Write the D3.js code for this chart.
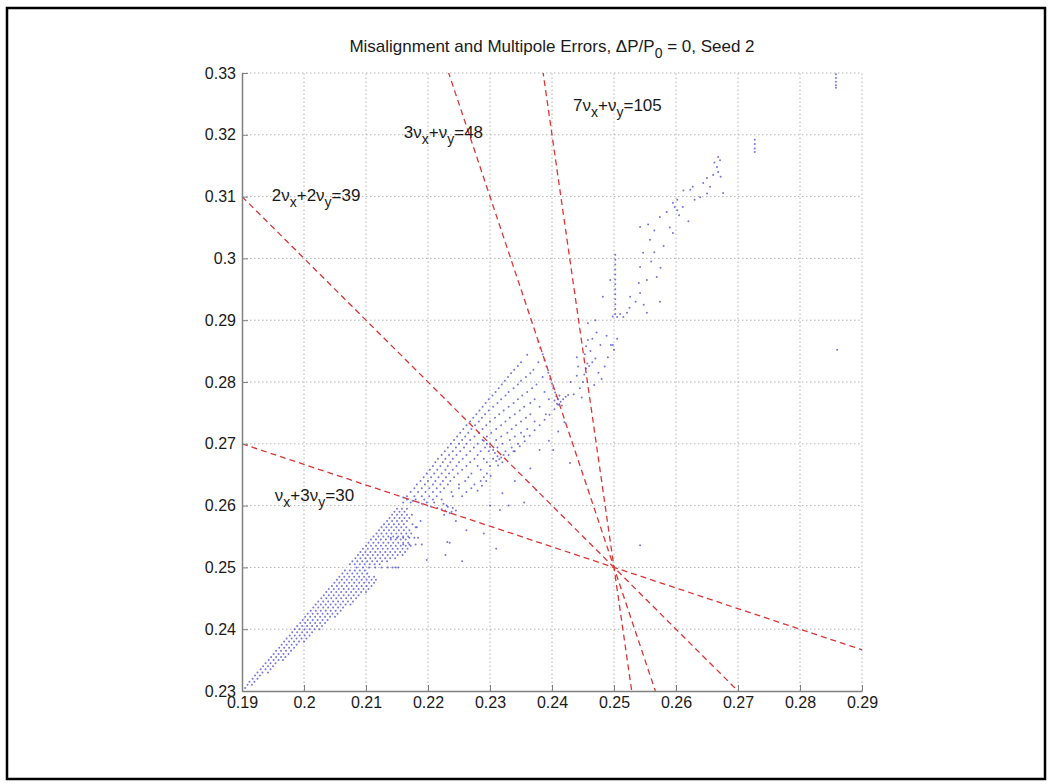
<!DOCTYPE html>
<html>
<head>
<meta charset="utf-8">
<script src="https://cdn.jsdelivr.net/npm/d3@7"></script>
<style>
  body { margin: 0; background: #fff; }
  text { font-family: Arial, "Liberation Sans", sans-serif; }
</style>
</head>
<body>
<svg id="chart" width="1051" height="784"></svg>
<script>
// tick values
const xTicks = [0.19, 0.2, 0.21, 0.22, 0.23, 0.24, 0.25, 0.26, 0.27, 0.28, 0.29];
const yTicks = [0.23, 0.24, 0.25, 0.26, 0.27, 0.28, 0.29, 0.3, 0.31, 0.32, 0.33];

// integer part of the tunes (nu_x = 14.xx, nu_y = 5.xx)
const integerTunes = [14, 5];

// resonance lines a*nux + b*nuy = n
const resonances = [[2, 2, 39], [1, 3, 30], [3, 1, 48], [7, 1, 105]];
// where each label starts, in tune units
const resLabelAt = [[0.1948, 0.3093], [0.1953, 0.2607], [0.2161, 0.3195], [0.2434, 0.3239]];

// footprint lattice, each row: [nuy, nux, nux, ...]
const wedgeRows = [
  [0.2305, 0.1905],
  [0.2310, 0.1909, 0.1916],
  [0.2315, 0.1912, 0.1920],
  [0.2320, 0.1917, 0.1925],
  [0.2325, 0.1921, 0.1929],
  [0.2330, 0.1925, 0.1933, 0.1942],
  [0.2335, 0.1930, 0.1938, 0.1946],
  [0.2340, 0.1934, 0.1942, 0.1950],
  [0.2345, 0.1938, 0.1946, 0.1954],
  [0.2350, 0.1943, 0.1951, 0.1959, 0.1966],
  [0.2355, 0.1947, 0.1955, 0.1963, 0.1970],
  [0.2360, 0.1951, 0.1959, 0.1967, 0.1975],
  [0.2365, 0.1955, 0.1963, 0.1971, 0.1979],
  [0.2370, 0.1960, 0.1968, 0.1976, 0.1984],
  [0.2375, 0.1964, 0.1972, 0.1980, 0.1988],
  [0.2380, 0.1968, 0.1976, 0.1984, 0.1992, 0.2000],
  [0.2385, 0.1972, 0.1980, 0.1988, 0.1996, 0.2004],
  [0.2390, 0.1977, 0.1985, 0.1993, 0.2001, 0.2009],
  [0.2395, 0.1981, 0.1989, 0.1997, 0.2005, 0.2013],
  [0.2400, 0.1985, 0.1993, 0.2001, 0.2009, 0.2017, 0.2025],
  [0.2405, 0.1989, 0.1997, 0.2005, 0.2013, 0.2021, 0.2029],
  [0.2410, 0.1994, 0.2002, 0.2010, 0.2018, 0.2026, 0.2034],
  [0.2415, 0.1998, 0.2006, 0.2014, 0.2022, 0.2030, 0.2038],
  [0.2420, 0.2002, 0.2010, 0.2018, 0.2026, 0.2034, 0.2042, 0.2050],
  [0.2425, 0.2006, 0.2014, 0.2022, 0.2030, 0.2038, 0.2046, 0.2054],
  [0.2430, 0.2011, 0.2019, 0.2027, 0.2035, 0.2043, 0.2051, 0.2059],
  [0.2435, 0.2015, 0.2023, 0.2031, 0.2039, 0.2047, 0.2055, 0.2063],
  [0.2440, 0.2019, 0.2027, 0.2035, 0.2043, 0.2051, 0.2059, 0.2067, 0.2075],
  [0.2445, 0.2023, 0.2031, 0.2039, 0.2047, 0.2055, 0.2063, 0.2071, 0.2079],
  [0.2450, 0.2028, 0.2036, 0.2044, 0.2052, 0.2060, 0.2068, 0.2076, 0.2084],
  [0.2455, 0.2032, 0.2040, 0.2048, 0.2056, 0.2064, 0.2072, 0.2080, 0.2088],
  [0.2460, 0.2036, 0.2044, 0.2052, 0.2060, 0.2068, 0.2076, 0.2084, 0.2092, 0.2100],
  [0.2465, 0.2040, 0.2048, 0.2056, 0.2064, 0.2072, 0.2080, 0.2088, 0.2096, 0.2104],
  [0.2470, 0.2045, 0.2053, 0.2061, 0.2069, 0.2077, 0.2085, 0.2093, 0.2101, 0.2109],
  [0.2475, 0.2049, 0.2057, 0.2065, 0.2073, 0.2081, 0.2089, 0.2097, 0.2105, 0.2113],
  [0.2480, 0.2053, 0.2061, 0.2069, 0.2077, 0.2085, 0.2093, 0.2101, 0.2109, 0.2116],
  [0.2485, 0.2057, 0.2065, 0.2073, 0.2081, 0.2089, 0.2097, 0.2105, 0.2113],
  [0.2490, 0.2062, 0.2070, 0.2078, 0.2086, 0.2094, 0.2102],
  [0.2495, 0.2066, 0.2074, 0.2082, 0.2090, 0.2098],
  [0.2505, 0.2074, 0.2082, 0.2090, 0.2098, 0.2106, 0.2114, 0.2122],
  [0.2510, 0.2078, 0.2086, 0.2094, 0.2102, 0.2110, 0.2118, 0.2126, 0.2134],
  [0.2515, 0.2083, 0.2091, 0.2099, 0.2107, 0.2115, 0.2123, 0.2131, 0.2139, 0.2147],
  [0.2520, 0.2087, 0.2095, 0.2103, 0.2111, 0.2119, 0.2127, 0.2135, 0.2143, 0.2151, 0.2159],
  [0.2525, 0.2091, 0.2099, 0.2107, 0.2115, 0.2123, 0.2131, 0.2139, 0.2147, 0.2155, 0.2163],
  [0.2530, 0.2095, 0.2103, 0.2111, 0.2119, 0.2127, 0.2135, 0.2143, 0.2151, 0.2159, 0.2167],
  [0.2535, 0.2100, 0.2108, 0.2116, 0.2124, 0.2132, 0.2140, 0.2148, 0.2156, 0.2164, 0.2172],
  [0.2540, 0.2104, 0.2112, 0.2120, 0.2128, 0.2136, 0.2144, 0.2152, 0.2160, 0.2168],
  [0.2545, 0.2108, 0.2116, 0.2124, 0.2132, 0.2140, 0.2148, 0.2156, 0.2164],
  [0.2550, 0.2112, 0.2120, 0.2128, 0.2136, 0.2144, 0.2152, 0.2160, 0.2168],
  [0.2555, 0.2117, 0.2125, 0.2133, 0.2141, 0.2149, 0.2157, 0.2165, 0.2173],
  [0.2560, 0.2121, 0.2129, 0.2137, 0.2145, 0.2153, 0.2161, 0.2170],
  [0.2565, 0.2125, 0.2133, 0.2141, 0.2149, 0.2157, 0.2165, 0.2180],
  [0.2570, 0.2129, 0.2137, 0.2145, 0.2153, 0.2161, 0.2175],
  [0.2575, 0.2134, 0.2142, 0.2150, 0.2158, 0.2166, 0.2188],
  [0.2580, 0.2138, 0.2146, 0.2154, 0.2162, 0.2170],
  [0.2585, 0.2142, 0.2150, 0.2158, 0.2166, 0.2174],
  [0.2590, 0.2146, 0.2154, 0.2162],
  [0.2595, 0.2150, 0.2158, 0.2166]
];

// short horizontal streaks
const streakRows = [
  [0.2500, 0.2085, 0.2095, 0.2105, 0.2115, 0.2125, 0.2135, 0.2143, 0.2148, 0.2152],
  [0.2548, 0.2140, 0.2150, 0.2160, 0.2170, 0.2178, 0.2184],
  [0.2537, 0.2160, 0.2170, 0.2180, 0.2190]
];

// middle part of the footprint
const midRows = [
  [0.2605, 0.2160, 0.2172, 0.2185, 0.2198, 0.2210],
  [0.2610, 0.2166, 0.2180, 0.2194, 0.2208, 0.2222],
  [0.2615, 0.2166, 0.2178, 0.2190, 0.2202, 0.2214, 0.2240, 0.2255],
  [0.2622, 0.2172, 0.2184, 0.2196, 0.2208, 0.2220, 0.2238, 0.2262],
  [0.2628, 0.2178, 0.2190, 0.2202, 0.2214, 0.2226, 0.2250, 0.2270],
  [0.2634, 0.2182, 0.2195, 0.2208, 0.2220, 0.2232, 0.2250, 0.2275],
  [0.2640, 0.2188, 0.2200, 0.2212, 0.2224, 0.2236, 0.2260, 0.2285],
  [0.2646, 0.2193, 0.2205, 0.2217, 0.2229, 0.2242, 0.2265, 0.2290],
  [0.2652, 0.2198, 0.2210, 0.2222, 0.2234, 0.2248, 0.2270, 0.2295],
  [0.2658, 0.2203, 0.2215, 0.2228, 0.2240, 0.2255, 0.2285],
  [0.2664, 0.2208, 0.2220, 0.2232, 0.2246, 0.2262, 0.2280, 0.2300],
  [0.2670, 0.2212, 0.2224, 0.2236, 0.2250, 0.2268, 0.2295],
  [0.2676, 0.2216, 0.2228, 0.2240, 0.2256, 0.2275, 0.2290],
  [0.2682, 0.2222, 0.2234, 0.2246, 0.2262, 0.2280, 0.2330],
  [0.2688, 0.2227, 0.2240, 0.2252, 0.2268, 0.2285, 0.2325, 0.2338],
  [0.2694, 0.2232, 0.2245, 0.2258, 0.2274, 0.2292, 0.2312, 0.2335],
  [0.2700, 0.2237, 0.2250, 0.2262, 0.2280, 0.2300, 0.2320, 0.2345],
  [0.2706, 0.2242, 0.2255, 0.2268, 0.2288, 0.2310, 0.2332],
  [0.2712, 0.2247, 0.2260, 0.2275, 0.2295, 0.2318, 0.2340, 0.2355],
  [0.2718, 0.2252, 0.2265, 0.2282, 0.2302, 0.2328, 0.2350],
  [0.2724, 0.2257, 0.2270, 0.2288, 0.2310, 0.2335, 0.2360],
  [0.2730, 0.2262, 0.2276, 0.2294, 0.2318, 0.2342],
  [0.2736, 0.2268, 0.2282, 0.2300, 0.2325, 0.2350, 0.2372],
  [0.2742, 0.2273, 0.2287, 0.2308, 0.2332, 0.2358],
  [0.2748, 0.2278, 0.2292, 0.2315, 0.2340, 0.2365, 0.2390],
  [0.2754, 0.2283, 0.2298, 0.2322, 0.2348],
  [0.2760, 0.2288, 0.2305, 0.2330, 0.2355, 0.2380],
  [0.2766, 0.2293, 0.2312, 0.2338, 0.2365],
  [0.2772, 0.2298, 0.2318, 0.2345, 0.2372, 0.2395],
  [0.2778, 0.2304, 0.2325, 0.2352],
  [0.2784, 0.2309, 0.2330, 0.2360, 0.2388],
  [0.2790, 0.2314, 0.2338, 0.2368],
  [0.2796, 0.2319, 0.2345, 0.2375],
  [0.2802, 0.2324, 0.2350],
  [0.2808, 0.2329, 0.2358, 0.2385],
  [0.2814, 0.2334, 0.2365],
  [0.2820, 0.2339, 0.2370],
  [0.2826, 0.2345],
  [0.2832, 0.2350, 0.2378],
  [0.2844, 0.2360]
];

// dense spots where the footprint hits a resonance, [nux, nuy]
const clusterPts = [
  [0.2160, 0.2613], [0.2175, 0.2608], [0.2190, 0.2603], [0.2205, 0.2598], [0.2215, 0.2596],
  [0.2222, 0.2594], [0.2228, 0.2592], [0.2232, 0.2598], [0.2235, 0.2588], [0.2240, 0.2596],
  [0.2226, 0.2585], [0.2238, 0.2590], [0.2230, 0.2600], [0.2245, 0.2592], [0.2225, 0.2603],
  [0.2290, 0.2705], [0.2295, 0.2700], [0.2300, 0.2695], [0.2305, 0.2690], [0.2308, 0.2685],
  [0.2312, 0.2680], [0.2315, 0.2675], [0.2318, 0.2678], [0.2310, 0.2672], [0.2320, 0.2670],
  [0.2305, 0.2676], [0.2322, 0.2682], [0.2313, 0.2665], [0.2298, 0.2688],
  [0.2280, 0.2624], [0.2287, 0.2632], [0.2294, 0.2640], [0.2301, 0.2648], [0.2340, 0.2688],
  [0.2348, 0.2696], [0.2356, 0.2704], [0.2364, 0.2713], [0.2372, 0.2722], [0.2380, 0.2730],
  [0.2388, 0.2739], [0.2396, 0.2747], [0.2404, 0.2756], [0.2410, 0.2763],
  [0.2378, 0.2865], [0.2381, 0.2855], [0.2385, 0.2845], [0.2388, 0.2835], [0.2391, 0.2825],
  [0.2394, 0.2815], [0.2397, 0.2805], [0.2400, 0.2797], [0.2402, 0.2790], [0.2405, 0.2783],
  [0.2407, 0.2777], [0.2410, 0.2772], [0.2414, 0.2768], [0.2418, 0.2772], [0.2422, 0.2776],
  [0.2426, 0.2779], [0.2408, 0.2765], [0.2412, 0.2778], [0.2404, 0.2770], [0.2416, 0.2762]
];

// region around the 7nux+nuy line and the vertical streak
const upperPts = [
  [0.2445, 0.2790], [0.2450, 0.2800], [0.2452, 0.2812], [0.2455, 0.2822], [0.2457, 0.2830],
  [0.2460, 0.2826], [0.2465, 0.2832], [0.2470, 0.2838], [0.2453, 0.2845], [0.2455, 0.2858],
  [0.2458, 0.2868], [0.2462, 0.2850], [0.2475, 0.2815], [0.2480, 0.2805], [0.2485, 0.2825],
  [0.2490, 0.2840], [0.2440, 0.2810], [0.2435, 0.2780], [0.2448, 0.2775], [0.2468, 0.2795],
  [0.2478, 0.2860], [0.2488, 0.2875], [0.2472, 0.2880], [0.2495, 0.2860], [0.2498, 0.2860],
  [0.2500, 0.2852], [0.2505, 0.2870], [0.2465, 0.2870], [0.2442, 0.2825], [0.2440, 0.2840],
  [0.2430, 0.2800], [0.2458, 0.2895], [0.2470, 0.2900], [0.2482, 0.2938], [0.2494, 0.2965],
  [0.2502, 0.2910], [0.2502, 0.2918], [0.2502, 0.2926], [0.2502, 0.2934], [0.2502, 0.2942],
  [0.2502, 0.2950], [0.2502, 0.2958], [0.2502, 0.2966], [0.2502, 0.2974], [0.2502, 0.2982],
  [0.2502, 0.2990], [0.2502, 0.2998], [0.2502, 0.3006], [0.2505, 0.2905], [0.2510, 0.2910],
  [0.2498, 0.2906],
  [0.2515, 0.2905], [0.2525, 0.2920], [0.2521, 0.2912], [0.2535, 0.2930], [0.2542, 0.2944],
  [0.2526, 0.2938], [0.2553, 0.2912], [0.2548, 0.2925], [0.2540, 0.2960], [0.2542, 0.2986],
  [0.2553, 0.2965], [0.2569, 0.2970], [0.2547, 0.3009], [0.2560, 0.2995], [0.2575, 0.2985],
  [0.2542, 0.3051], [0.2558, 0.3030], [0.2565, 0.3045], [0.2574, 0.3067], [0.2580, 0.3020],
  [0.2590, 0.3050], [0.2595, 0.3041], [0.2598, 0.3083], [0.2595, 0.3090], [0.2605, 0.3070],
  [0.2611, 0.3083], [0.2620, 0.3060], [0.2623, 0.3111], [0.2627, 0.3116], [0.2630, 0.3095],
  [0.2639, 0.3099], [0.2644, 0.3122], [0.2650, 0.3105], [0.2655, 0.3116], [0.2660, 0.3135],
  [0.2666, 0.3148], [0.2671, 0.3159], [0.2668, 0.3140], [0.2676, 0.3106], [0.2662, 0.3155],
  [0.2650, 0.3130], [0.2612, 0.3110], [0.2585, 0.3075], [0.2565, 0.3010], [0.2555, 0.3055],
  [0.2602, 0.3095], [0.2602, 0.3078], [0.2668, 0.3164], [0.2672, 0.3132]
];

// scattered and lost particles
const sparsePts = [
  [0.2245, 0.2575], [0.2262, 0.2560], [0.2235, 0.2540], [0.2290, 0.2555], [0.2310, 0.2530],
  [0.2330, 0.2600], [0.2355, 0.2605], [0.2340, 0.2640], [0.2365, 0.2660], [0.2380, 0.2690],
  [0.2300, 0.2600], [0.2320, 0.2620], [0.2395, 0.2705], [0.2410, 0.2720], [0.2420, 0.2735],
  [0.2375, 0.2625], [0.2228, 0.2520], [0.2255, 0.2510], [0.2402, 0.2690], [0.2429, 0.2669],
  [0.2316, 0.2593], [0.2231, 0.2541], [0.2198, 0.2512], [0.2182, 0.2565],
  [0.2727, 0.3192], [0.2727, 0.3185], [0.2727, 0.3178], [0.2727, 0.3172],
  [0.2858, 0.3298], [0.2858, 0.3292], [0.2858, 0.3286], [0.2858, 0.3280], [0.2858, 0.3276],
  [0.2860, 0.2852], [0.2574, 0.2930], [0.2542, 0.2536]
];

const svg = d3.select("#chart");
const width = 1051;
const height = 784;

const x = d3.scaleLinear().domain([0.19, 0.29]).range([242, 862]);
const y = d3.scaleLinear().domain([0.23, 0.33]).range([691, 73]);

svg.append("rect")
  .attr("width", width).attr("height", height).attr("fill", "#fff");

// outer frame
svg.append("rect")
  .attr("x", 7).attr("y", 8)
  .attr("width", 1038).attr("height", 771)
  .attr("fill", "none")
  .attr("stroke", "#000")
  .attr("stroke-width", 2.5);

svg.append("clipPath").attr("id", "plotclip")
  .append("rect")
  .attr("x", x(0.19)).attr("y", y(0.33))
  .attr("width", x(0.29) - x(0.19)).attr("height", y(0.23) - y(0.33));

// dotted grid
const grid = svg.append("g")
  .attr("stroke", "#b4b4b4")
  .attr("stroke-width", 1)
  .attr("stroke-dasharray", "1.5,2.5");
grid.selectAll(".gx").data(xTicks.slice(1)).join("line")
  .attr("x1", d => x(d)).attr("x2", d => x(d))
  .attr("y1", y(0.23)).attr("y2", y(0.33));
grid.selectAll(".gy").data(yTicks.slice(1)).join("line")
  .attr("x1", x(0.19)).attr("x2", x(0.29))
  .attr("y1", d => y(d)).attr("y2", d => y(d));

// tune footprint
const rowsToPts = rows => rows.flatMap(r => r.slice(1).map(v => [v, r[0]]));
const allPts = [].concat(
  rowsToPts(wedgeRows), rowsToPts(streakRows), rowsToPts(midRows),
  clusterPts, upperPts, sparsePts
);

svg.append("g")
  .selectAll("circle")
  .data(allPts)
  .join("circle")
  .attr("cx", d => x(d[0]))
  .attr("cy", d => y(d[1]))
  .attr("r", 1)
  .attr("fill", "#2b2bd0")
  .attr("fill-opacity", 0.65);

// resonance lines
const [qx, qy] = integerTunes;
const resY = (r, fx) => (r[2] - r[0] * (qx + fx)) / r[1] - qy;

svg.append("g")
  .attr("clip-path", "url(#plotclip)")
  .selectAll("line")
  .data(resonances)
  .join("line")
  .attr("x1", x(0.19)).attr("y1", r => y(resY(r, 0.19)))
  .attr("x2", x(0.29)).attr("y2", r => y(resY(r, 0.29)))
  .attr("stroke", "#dd3535")
  .attr("stroke-width", 1.3)
  .attr("stroke-dasharray", "6,4");

// axes
const fmt = d => String(+d.toFixed(2));
const xAxis = svg.append("g")
  .attr("transform", `translate(0,${y(0.23)})`)
  .call(d3.axisBottom(x).tickValues(xTicks).tickSize(-6).tickSizeOuter(0).tickPadding(6).tickFormat(fmt));
const yAxis = svg.append("g")
  .attr("transform", `translate(${x(0.19)},0)`)
  .call(d3.axisLeft(y).tickValues(yTicks).tickSize(-6).tickSizeOuter(0).tickPadding(6).tickFormat(fmt));

[xAxis, yAxis].forEach(g => {
  g.select(".domain").attr("stroke", "#808080").attr("stroke-width", 1.5);
  g.selectAll(".tick line").attr("stroke", "#808080");
  g.selectAll(".tick text").attr("fill", "#1a1a1a").style("font-size", "16px")
    .style("font-family", "Arial, 'Liberation Sans', sans-serif");
});

// title
const title = svg.append("text")
  .attr("x", (x(0.19) + x(0.29)) / 2)
  .attr("y", 52)
  .attr("text-anchor", "middle")
  .attr("fill", "#1a1a1a")
  .style("font-size", "17px");
title.append("tspan").text("Misalignment and Multipole Errors, \u0394P/P");
title.append("tspan").attr("dy", 6).style("font-size", "14px").text("0");
title.append("tspan").attr("dy", -6).text(" = 0, Seed 2");

// resonance labels
const coef = c => (c === 1 ? "" : String(c));
resonances.forEach((r, i) => {
  const t = svg.append("text")
    .attr("x", x(resLabelAt[i][0]))
    .attr("y", y(resLabelAt[i][1]))
    .attr("fill", "#1a1a1a")
    .style("font-size", "17px");
  t.append("tspan").text(coef(r[0]) + "\u03bd");
  t.append("tspan").attr("dy", 6).style("font-size", "14px").text("x");
  t.append("tspan").attr("dy", -6).text("+" + coef(r[1]) + "\u03bd");
  t.append("tspan").attr("dy", 6).style("font-size", "14px").text("y");
  t.append("tspan").attr("dy", -6).text("=" + r[2]);
});
</script>
</body>
</html>
